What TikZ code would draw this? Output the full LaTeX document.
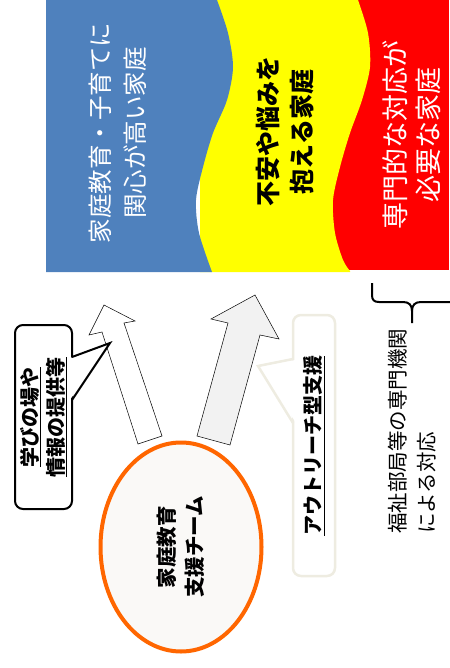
\documentclass[tikz,border=0pt]{standalone}
\usepackage{fontspec}
\setmainfont{Noto Sans CJK JP}
\usetikzlibrary{shapes.geometric,positioning}
\definecolor{keenblue}{HTML}{4F81BD}
\definecolor{worryyellow}{HTML}{FFFF00}
\definecolor{specialred}{HTML}{FF0000}
\definecolor{teamorange}{HTML}{FF6600}
\definecolor{teamfill}{HTML}{FAF9F7}
\definecolor{arrowgray}{HTML}{F2F2F2}
\definecolor{notebeige}{HTML}{EEECE1}

\begin{document}
\begin{tikzpicture}
[x=1pt, y=-1pt,
 bandtext/.style={rotate=90, align=center, inner sep=0pt},
 team/.style={ellipse, draw=teamorange, line width=4pt, fill=teamfill, rotate=90, inner sep=0pt,
   minimum width=209pt, minimum height=161pt, align=center, font=\bfseries\fontsize{20.5}{28}\selectfont},
 blockarrow/.style={draw=black, line width=0.5pt, line join=miter},
 notebox/.style={rectangle, rounded corners=8pt, rotate=90, fill=white, align=center, inner sep=0pt},
 bracket/.style={draw=black, line width=2pt}]
    \useasboundingbox (0,0) rectangle (449,668);
    % three bands of families
    \fill[specialred] (200,0) rectangle (449,270);
    \fill[worryyellow] (200,0) -- (358,0) -- plot[smooth] coordinates {(358,0) (368,33) (370,67) (362,100) (350,133) (340,167) (333,200) (335,233) (343,260) (350,271)}
        -- (350,272) -- (200,272) -- cycle;
    \fill[keenblue] (46,0) -- (217,0) -- plot[smooth] coordinates {(217,0) (228,33) (233,67) (227,100) (213,133) (203,167) (196,200) (199,233) (212,272)}
        -- (46,272) -- cycle;
    \node[bandtext, text=white, font=\fontsize{24.5}{35}\selectfont] (keen) at (117.5,133) {家庭教育・子育てに\\関心が高い家庭};
    \node[bandtext, font=\bfseries\fontsize{25}{34}\selectfont] (worry) at (285,132) {不安や悩みを\\抱える家庭};
    \node[bandtext, text=white, font=\fontsize{27}{33}\selectfont] (special) at (411.5,135) {専門的な対応が\\必要な家庭};

    \node[team] (team) at (181,547) {家庭教育\\支援チーム};

    % block arrows out of the team
    \filldraw[blockarrow, fill=white] (138,444) -- (102,332) -- (89,335) -- (104,305) -- (135,321) -- (124,323) -- (162,436) -- cycle;
    \filldraw[blockarrow, fill=arrowgray] (197,436) -- (228,323) -- (211,319) -- (255,295) -- (279,339) -- (260,335) -- (230,445) -- cycle;

    % callouts
    \node[notebox, draw=black, line width=2pt, minimum width=184pt, minimum height=57pt,
          font=\bfseries\fontsize{20}{26}\selectfont] (learn) at (43.5,417) {\underline{学びの場や}\\\underline{情報の提供等}};
    \fill[white] (70.5,358) -- (110,343) -- (70.5,399) -- cycle;
    \draw[line width=2pt, line join=miter] (72,357) -- (110,343) -- (72,400);

    \node[notebox, draw=notebeige, line width=2.5pt, minimum width=261pt, minimum height=42pt,
          font=\bfseries\fontsize{20}{26}\selectfont] (outreach) at (314,445.5) {\underline{アウトリーチ型支援}};
    \fill[white] (295.5,360) -- (258,366) -- (295.5,422) -- cycle;
    \draw[notebeige, line width=2.5pt, line join=miter] (293,359) -- (258,366) -- (293,423);

    % brace under the red band
    \draw[bracket] (372,283) -- (372,295) .. controls (372,300) and (374,302) .. (379,302) -- (403,302)
        .. controls (409,302) and (412,305) .. (412,311) -- (412,323);
    \draw[bracket] (412,311) .. controls (412,305) and (415,302) .. (421,302) -- (452,302);
    \node[rotate=90, anchor=west, align=left, inner sep=0pt, font=\fontsize{20.5}{29}\selectfont] (welfare) at (412.5,534)
        {福祉部局等の専門機関\\による対応};
\end{tikzpicture}
\end{document}
